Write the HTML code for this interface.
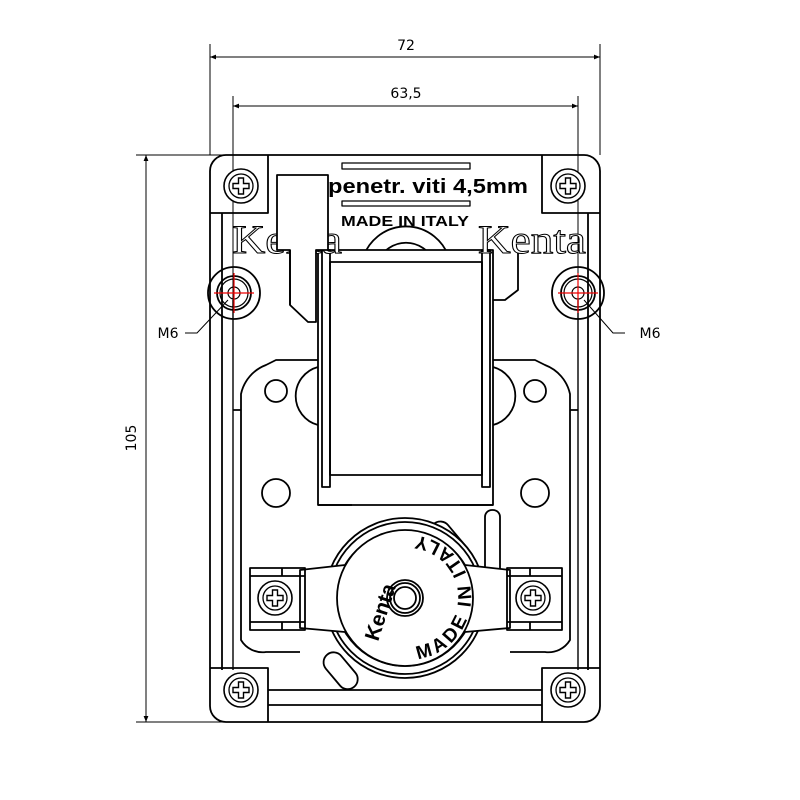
<!DOCTYPE html>
<html><head><meta charset="utf-8"><style>
html,body{margin:0;padding:0;background:#fff;}
svg{display:block;}
</style></head><body>
<svg width="800" height="800" viewBox="0 0 800 800" xmlns="http://www.w3.org/2000/svg" font-family="DejaVu Sans, Liberation Sans, sans-serif">
<defs>
<marker id="ar" viewBox="0 0 10 10" refX="10" refY="5" markerWidth="12" markerHeight="6" orient="auto-start-reverse" markerUnits="userSpaceOnUse"><path d="M0,1 L10,5 L0,9 z" fill="#000"/></marker>
<g id="scr"><circle r="17" fill="#fff" stroke="#000" stroke-width="1.6"/><circle r="12" fill="none" stroke="#000" stroke-width="1.3"/><path d="M-2.5,-8 h5 v5.5 h5.5 v5 h-5.5 v5.5 h-5 v-5.5 h-5.5 v-5 h5.5 z" fill="none" stroke="#000" stroke-width="1.4"/></g>
<path id="arcR" d="M418,659 A62,62 0 0 0 400,536"/>
</defs>
<g fill="none" stroke="#000" stroke-width="1">
<line x1="210" y1="44" x2="210" y2="155"/><line x1="600" y1="44" x2="600" y2="155"/>
<line x1="210" y1="57" x2="600" y2="57" marker-start="url(#ar)" marker-end="url(#ar)"/>
<line x1="233" y1="96" x2="233" y2="300"/><line x1="578" y1="96" x2="578" y2="300"/>
<line x1="233" y1="106" x2="578" y2="106" marker-start="url(#ar)" marker-end="url(#ar)"/>
<line x1="136" y1="155" x2="235" y2="155"/><line x1="136" y1="722" x2="235" y2="722"/>
<line x1="146" y1="155" x2="146" y2="722" marker-start="url(#ar)" marker-end="url(#ar)"/>
<path d="M185,333 H197 L228,300"/><path d="M625,333 H613 L584,300"/>
</g>
<text x="406" y="50" font-size="14" text-anchor="middle">72</text>
<text x="406" y="98" font-size="14" text-anchor="middle">63,5</text>
<text x="136" y="438" font-size="14" text-anchor="middle" transform="rotate(-90 136 438)">105</text>
<text x="168" y="338" font-size="14" text-anchor="middle">M6</text>
<text x="650" y="338" font-size="14" text-anchor="middle">M6</text>

<g fill="none" stroke="#000" stroke-width="1.8" stroke-linejoin="round">
<rect x="210" y="155" width="390" height="567" rx="16"/>
<line x1="222" y1="213" x2="222" y2="670"/><line x1="588" y1="213" x2="588" y2="670"/>
<line x1="233" y1="300" x2="233" y2="670" stroke-width="1.4"/><line x1="578" y1="300" x2="578" y2="670" stroke-width="1.4"/>
<path d="M210,213 H268 V155"/><path d="M600,213 H542 V155"/>
<path d="M210,668 H268 V722"/><path d="M600,668 H542 V722"/>
<path d="M268,690 H542 M268,705 H542"/>
<rect x="342" y="163" width="128" height="6" stroke-width="1.3"/>
<rect x="342" y="201" width="128" height="5" stroke-width="1.3"/>
<circle cx="234" cy="293" r="26"/><circle cx="234" cy="293" r="17"/><circle cx="234" cy="293" r="14" stroke-width="1.2"/><circle cx="234" cy="293" r="6" stroke-width="1.2"/>
<circle cx="578" cy="293" r="26"/><circle cx="578" cy="293" r="17"/><circle cx="578" cy="293" r="14" stroke-width="1.2"/><circle cx="578" cy="293" r="6" stroke-width="1.2"/>
<path d="M490,250 V300 H505 L518,290 V250"/>
<path d="M362,262 A45,45 0 0 1 450,262"/><path d="M378,262 A30,30 0 0 1 434,262"/>
<rect x="318" y="250" width="175" height="255" fill="#fff"/>
<rect x="322" y="250" width="8" height="237"/><rect x="482" y="250" width="8" height="237"/>
<rect x="330" y="262" width="152" height="213"/>
<path d="M318,360 H276 L266,365 A40,40 0 0 0 241,394 V640 A25,25 0 0 0 266,652 H300"/>
<path d="M493,360 H535 L545,365 A40,40 0 0 1 570,394 V640 A25,25 0 0 1 545,652 H510"/>
<path d="M233,410 H241 M578,410 H570"/>
<path d="M318,367 A30,30 0 0 0 318,425"/><path d="M493,367 A30,30 0 0 1 493,425"/>
<circle cx="276" cy="391" r="11"/><circle cx="535" cy="391" r="11"/>
<circle cx="276" cy="493" r="14"/><circle cx="535" cy="493" r="14"/>
<path d="M318,505 H352 M460,505 H493"/>
<rect x="440" y="518" width="20" height="50" rx="10" transform="rotate(-40 450 543)"/>
<rect x="485" y="510" width="15" height="70" rx="7"/>
<rect x="330" y="650" width="20" height="42" rx="10" transform="rotate(-40 340 670)"/>
<circle cx="405" cy="598" r="80" fill="#fff"/>
<circle cx="405" cy="598" r="76"/>
<path d="M300,570 L345,565 A70,70 0 0 1 465,565 L510,570 V628 L465,632 A70,70 0 0 1 345,632 L300,628 Z" fill="#fff"/>
<circle cx="405" cy="598" r="68" fill="#fff"/>
<circle cx="405" cy="598" r="18"/><circle cx="405" cy="598" r="15"/><circle cx="405" cy="598" r="11"/>
<rect x="250" y="568" width="55" height="62"/><path d="M250,576 H305 M250,622 H305 M282,568 V576 M282,622 V630"/>
<rect x="507" y="568" width="55" height="62"/><path d="M507,576 H562 M507,622 H562 M530,568 V576 M530,622 V630"/>
</g>
<use href="#scr" x="241" y="186"/><use href="#scr" x="568" y="186"/>
<use href="#scr" x="241" y="690"/><use href="#scr" x="568" y="690"/>
<use href="#scr" x="275" y="598"/><use href="#scr" x="533" y="598"/>
<g stroke="#e00" stroke-width="1.2">
<line x1="214" y1="293" x2="254" y2="293"/><line x1="234" y1="273" x2="234" y2="313"/>
<line x1="558" y1="293" x2="598" y2="293"/><line x1="578" y1="273" x2="578" y2="313"/>
</g>
<text x="328" y="193" font-size="20" font-weight="bold" style="font-family:'Liberation Sans',sans-serif" textLength="200" lengthAdjust="spacingAndGlyphs">penetr. viti 4,5mm</text>
<text x="405" y="226" font-size="15" font-weight="bold" text-anchor="middle" style="font-family:'Liberation Sans',sans-serif" textLength="128" lengthAdjust="spacingAndGlyphs">MADE IN ITALY</text>
<text x="232" y="253" font-size="40" fill="#fff" stroke="#000" stroke-width="1" style="font-family:'Liberation Serif',serif" textLength="110" lengthAdjust="spacingAndGlyphs">Kenta</text>
<path d="M277,175 H328 V250 H316 V322 H308 L290,305 V250 H277 Z" fill="#fff" stroke="#000" stroke-width="1.8" stroke-linejoin="round"/>
<line x1="290" y1="250" x2="290" y2="305" stroke="#000" stroke-width="1.8"/>
<text x="478" y="253" font-size="40" fill="#fff" stroke="#000" stroke-width="1" style="font-family:'Liberation Serif',serif" textLength="108" lengthAdjust="spacingAndGlyphs">Kenta</text>
<text font-size="21" font-weight="bold" style="font-family:'Liberation Sans',sans-serif" transform="translate(378,642) rotate(-72)">Kenta</text>
<text font-size="19" font-weight="bold" style="font-family:'Liberation Sans',sans-serif" textLength="178" lengthAdjust="spacing"><textPath href="#arcR" textLength="178" lengthAdjust="spacing">MADE IN ITALY</textPath></text>
</svg>
</body></html>
